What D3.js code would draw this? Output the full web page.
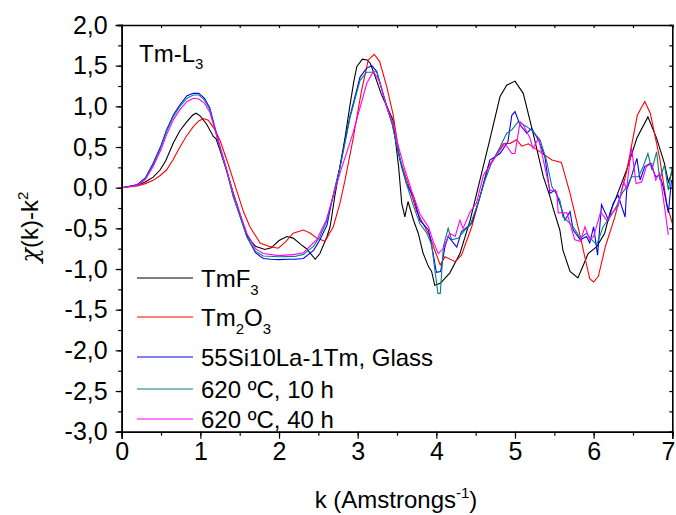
<!DOCTYPE html>
<html><head><meta charset="utf-8">
<script src="https://cdn.jsdelivr.net/npm/d3@7"></script>
<style>
html,body{margin:0;padding:0;background:#fff;}
text{font-family:"Liberation Sans",Arial,sans-serif;fill:#000;}
</style></head>
<body>
<svg id="chart" width="676" height="515"></svg>
<script>
// ---- data (k, chi(k)*k^2) ----
const seriesNames = ["TmF3", "Tm2O3", "55Si10La-1Tm, Glass", "620 ºC, 10 h", "620 ºC, 40 h"];
const seriesColors = ["#000000", "#ff0000", "#0000ff", "#008080", "#ff00ff"];

const tmf3 = [[0,0],[0.2,0.03],[0.3,0.07],[0.4,0.13],[0.49,0.22],[0.56,0.33],[0.656,0.55],[0.74,0.70],[0.826,0.81],[0.9,0.89],[0.945,0.915],[1.0,0.88],[1.08,0.78],[1.165,0.63],[1.2,0.6],[1.25,0.46],[1.33,0.22],[1.42,-0.07],[1.5,-0.33],[1.6,-0.6],[1.7,-0.72],[1.82,-0.76],[1.9,-0.74],[2.0,-0.65],[2.1,-0.6],[2.18,-0.62],[2.28,-0.7],[2.35,-0.75],[2.46,-0.88],[2.52,-0.81],[2.61,-0.6],[2.65,-0.48],[2.71,-0.1],[2.775,0.26],[2.84,0.62],[2.9,1.0],[2.95,1.3],[2.99,1.49],[3.06,1.58],[3.12,1.57],[3.16,1.53],[3.24,1.32],[3.3,1.15],[3.37,1.0],[3.45,0.83],[3.52,0.26],[3.56,-0.19],[3.6,-0.36],[3.64,-0.17],[3.71,-0.4],[3.77,-0.56],[3.83,-0.8],[3.9,-0.97],[3.94,-1.03],[3.98,-1.2],[4.05,-1.175],[4.17,-1.05],[4.3,-0.81],[4.43,-0.4],[4.555,0.095],[4.68,0.59],[4.81,1.12],[4.895,1.26],[5.0,1.31],[5.105,1.16],[5.23,0.67],[5.36,0.135],[5.445,-0.11],[5.49,-0.27],[5.57,-0.52],[5.61,-0.77],[5.7,-1.03],[5.8,-1.11],[5.87,-0.95],[5.93,-0.81],[6.04,-0.725],[6.14,-0.56],[6.21,-0.3],[6.29,-0.11],[6.42,0.22],[6.55,0.61],[6.69,0.87],[6.8,0.61],[6.9,0.3],[6.95,0.07],[7.0,0.2]];

const tm2o3 = [[0,0],[0.2,0.02],[0.3,0.05],[0.4,0.09],[0.49,0.15],[0.572,0.22],[0.65,0.34],[0.741,0.5],[0.82,0.63],[0.91,0.75],[0.98,0.82],[1.04,0.85],[1.1,0.83],[1.18,0.72],[1.25,0.58],[1.35,0.3],[1.46,-0.03],[1.55,-0.3],[1.63,-0.48],[1.76,-0.68],[1.885,-0.725],[1.99,-0.745],[2.08,-0.67],[2.18,-0.56],[2.31,-0.52],[2.4,-0.56],[2.48,-0.62],[2.585,-0.66],[2.69,-0.48],[2.775,-0.19],[2.84,0.095],[2.94,0.59],[3.05,1.2],[3.135,1.57],[3.21,1.64],[3.28,1.55],[3.37,1.24],[3.45,0.9],[3.54,0.34],[3.64,0.05],[3.75,-0.29],[3.83,-0.44],[3.92,-0.6],[3.98,-0.77],[4.05,-0.95],[4.11,-0.85],[4.24,-0.91],[4.32,-0.83],[4.45,-0.48],[4.555,-0.11],[4.66,0.26],[4.745,0.38],[4.85,0.54],[4.94,0.545],[5.02,0.59],[5.085,0.51],[5.17,0.54],[5.32,0.44],[5.47,0.34],[5.59,0.31],[5.7,-0.07],[5.83,-0.6],[5.95,-1.12],[6.0,-1.16],[6.06,-1.09],[6.15,-0.72],[6.27,-0.36],[6.42,0.2],[6.555,0.89],[6.65,1.06],[6.72,0.915],[6.84,0.36],[6.93,-0.2],[7.0,-0.44]];

const glass = [[0,0],[0.2,0.04],[0.3,0.12],[0.4,0.3],[0.5,0.52],[0.57,0.71],[0.66,0.9],[0.74,1.02],[0.83,1.13],[0.91,1.16],[0.98,1.16],[1.05,1.1],[1.12,0.98],[1.25,0.5],[1.335,0.22],[1.42,-0.11],[1.46,-0.19],[1.59,-0.6],[1.7,-0.8],[1.8,-0.87],[1.9,-0.88],[2.0,-0.885],[2.1,-0.88],[2.2,-0.88],[2.31,-0.87],[2.44,-0.77],[2.52,-0.64],[2.61,-0.46],[2.66,-0.22],[2.775,0.26],[2.9,0.87],[3.03,1.36],[3.115,1.47],[3.18,1.5],[3.24,1.43],[3.37,1.0],[3.44,0.78],[3.5,0.5],[3.56,0.25],[3.62,0.05],[3.71,-0.11],[3.79,-0.4],[3.9,-0.52],[3.96,-0.81],[4.0,-1.04],[4.055,-1.03],[4.11,-0.725],[4.15,-0.6],[4.26,-0.73],[4.32,-0.54],[4.45,-0.44],[4.555,-0.11],[4.68,0.34],[4.81,0.42],[4.91,0.565],[4.96,0.89],[5.0,0.935],[5.065,0.77],[5.15,0.67],[5.21,0.73],[5.3,0.585],[5.38,0.38],[5.445,-0.07],[5.51,-0.03],[5.59,-0.25],[5.635,-0.4],[5.7,-0.295],[5.74,-0.52],[5.83,-0.64],[5.91,-0.6],[5.95,-0.68],[6.0,-0.48],[6.05,-0.83],[6.1,-0.21],[6.19,-0.4],[6.25,-0.19],[6.31,-0.09],[6.4,-0.36],[6.42,-0.03],[6.48,0.135],[6.55,0.36],[6.59,0.095],[6.65,0.26],[6.72,0.3],[6.79,0.135],[6.84,0.155],[6.885,0.01],[6.95,-0.31],[6.99,0.095]];

const h10 = [[0,0],[0.2,0.03],[0.3,0.11],[0.4,0.28],[0.5,0.5],[0.57,0.69],[0.66,0.88],[0.74,1.0],[0.83,1.1],[0.91,1.14],[0.98,1.14],[1.05,1.08],[1.12,0.96],[1.25,0.48],[1.335,0.2],[1.42,-0.12],[1.59,-0.6],[1.7,-0.78],[1.8,-0.84],[2.0,-0.85],[2.2,-0.845],[2.31,-0.82],[2.44,-0.72],[2.52,-0.6],[2.61,-0.4],[2.66,-0.2],[2.775,0.24],[2.9,0.85],[3.03,1.32],[3.115,1.42],[3.2,1.42],[3.24,1.44],[3.37,1.0],[3.44,0.78],[3.5,0.5],[3.56,0.28],[3.62,0.05],[3.7,-0.2],[3.79,-0.44],[3.88,-0.56],[3.94,-0.7],[3.98,-1.0],[4.02,-1.3],[4.05,-1.3],[4.09,-0.72],[4.15,-0.5],[4.195,-0.64],[4.28,-0.62],[4.365,-0.52],[4.43,-0.46],[4.53,-0.19],[4.62,0.095],[4.7,0.3],[4.81,0.5],[4.895,0.67],[4.96,0.71],[5.04,0.81],[5.15,0.75],[5.23,0.69],[5.32,0.585],[5.4,0.34],[5.47,0.01],[5.57,-0.15],[5.61,-0.36],[5.7,-0.44],[5.74,-0.48],[5.83,-0.62],[5.91,-0.56],[5.975,-0.64],[6.04,-0.7],[6.12,-0.48],[6.21,-0.36],[6.29,-0.23],[6.36,-0.07],[6.42,0.01],[6.48,0.135],[6.57,0.135],[6.63,0.26],[6.69,0.42],[6.74,0.22],[6.8,0.44],[6.84,0.095],[6.9,0.28],[6.95,-0.03],[7.0,0.26]];

const h40 = [[0,0],[0.2,0.03],[0.3,0.1],[0.4,0.26],[0.5,0.47],[0.57,0.65],[0.66,0.84],[0.74,0.96],[0.83,1.06],[0.91,1.1],[0.98,1.09],[1.05,1.04],[1.12,0.93],[1.25,0.5],[1.335,0.22],[1.42,-0.08],[1.59,-0.56],[1.7,-0.75],[1.8,-0.81],[2.0,-0.835],[2.2,-0.82],[2.31,-0.8],[2.48,-0.64],[2.6,-0.4],[2.775,0.18],[2.94,0.67],[3.115,1.28],[3.2,1.43],[3.28,1.3],[3.37,0.98],[3.45,0.8],[3.52,0.5],[3.6,0.22],[3.69,-0.05],[3.79,-0.32],[3.9,-0.48],[3.96,-0.66],[4.025,-0.81],[4.09,-0.745],[4.17,-0.56],[4.24,-0.6],[4.3,-0.4],[4.34,-0.5],[4.43,-0.295],[4.51,-0.19],[4.6,0.155],[4.7,0.3],[4.81,0.46],[4.87,0.545],[4.96,0.42],[5.0,0.42],[5.065,0.81],[5.105,0.77],[5.19,0.61],[5.23,0.48],[5.3,0.61],[5.36,0.34],[5.445,-0.03],[5.53,-0.05],[5.55,-0.31],[5.66,-0.31],[5.76,-0.64],[5.83,-0.66],[5.89,-0.48],[5.95,-0.64],[6.0,-0.6],[6.09,-0.295],[6.165,-0.4],[6.25,-0.295],[6.31,-0.23],[6.38,0.07],[6.42,-0.01],[6.48,0.5],[6.54,0.05],[6.61,0.07],[6.67,0.26],[6.74,0.3],[6.79,0.095],[6.84,0.18],[6.9,-0.23],[6.95,-0.58]];

const xTicks = [0,1,2,3,4,5,6,7];
const yTicks = [2,1.5,1,0.5,0,-0.5,-1,-1.5,-2,-2.5,-3];

// ---- drawing ----
const allSeries = [tmf3, tm2o3, glass, h10, h40];
const svg = d3.select("#chart");
const L = 121.7, R = 672.3, T = 25, B = 431.7;
const x = d3.scaleLinear().domain([0,7]).range([L,R]);
const y = d3.scaleLinear().domain([-3,2]).range([B,T]);
const fmt = v => d3.format(".1f")(v).replace(".", ",").replace("\u2212", "-");

svg.append("clipPath").attr("id","clp").append("rect")
  .attr("x",L).attr("y",T).attr("width",R-L).attr("height",B-T);

const line = d3.line().x(d=>x(d[0])).y(d=>y(d[1]));
const g = svg.append("g").attr("clip-path","url(#clp)");
allSeries.forEach((s,i)=>{
  g.append("path").attr("d",line(s)).attr("fill","none")
   .attr("stroke",seriesColors[i]).attr("stroke-width",1.1);
});

const minorX = d3.range(0,7.01,0.5);
const minorY = d3.range(-3,2.01,0.25);

// bottom axis
svg.append("g").attr("class","lab").attr("transform",`translate(0,${B})`)
  .call(d3.axisBottom(x).tickValues(xTicks).tickSize(7).tickPadding(4).tickFormat(d3.format("d")));
svg.append("g").attr("transform",`translate(0,${B})`)
  .call(d3.axisBottom(x).tickValues(minorX).tickSize(4).tickFormat(""));
// left axis
svg.append("g").attr("class","lab").attr("transform",`translate(${L},0)`)
  .call(d3.axisLeft(y).tickValues(yTicks).tickSize(6).tickPadding(8).tickFormat(fmt));
svg.append("g").attr("transform",`translate(${L},0)`)
  .call(d3.axisLeft(y).tickValues(minorY).tickSize(3.5).tickFormat(""));
// top axis (ticks inward)
svg.append("g").attr("transform",`translate(0,${T})`)
  .call(d3.axisTop(x).tickValues(minorX).tickSize(-3).tickFormat(""));
// right axis (ticks inward)
svg.append("g").attr("transform",`translate(${R},0)`)
  .call(d3.axisRight(y).tickValues(minorY).tickSize(-3).tickFormat(""));

svg.selectAll(".domain").attr("stroke","#000").attr("stroke-width",1.6);
svg.selectAll(".tick line").attr("stroke","#000").attr("stroke-width",1.2);
svg.selectAll(".tick text").attr("font-size",25).attr("font-family","Liberation Sans, Arial, sans-serif").attr("fill","#000");
svg.selectAll(".lab .tick text").filter(d=>d===7).attr("text-anchor","end").attr("dx",2.5);

// axis titles
const xt = svg.append("text").attr("x",396).attr("y",508).attr("text-anchor","middle").attr("font-size",24);
xt.append("tspan").text("k (Amstrongs");
xt.append("tspan").attr("dy",-10).attr("font-size",15).text("-1");
xt.append("tspan").attr("dy",10).text(")");

const yt = svg.append("text").attr("transform","translate(38,227) rotate(-90)").attr("text-anchor","middle").attr("font-size",24);
yt.append("tspan").attr("font-family","DejaVu Serif, serif").attr("font-style","italic").text("χ");
yt.append("tspan").text("(k)-k");
yt.append("tspan").attr("dy",-10).attr("font-size",15).text("2");

// annotation
const an = svg.append("text").attr("x",139).attr("y",62).attr("font-size",24);
an.append("tspan").text("Tm-L");
an.append("tspan").attr("dy",7).attr("font-size",15).text("3");

// legend
const legY = [278, 317, 357, 389, 419];
const leg = svg.append("g");
seriesNames.forEach((n,i)=>{
  leg.append("line").attr("x1",137).attr("x2",193).attr("y1",legY[i]).attr("y2",legY[i])
    .attr("stroke",seriesColors[i]).attr("stroke-width",1.1);
  const t = leg.append("text").attr("x",201).attr("y",legY[i]+9).attr("font-size",24);
  if (i===0){ t.append("tspan").text("TmF"); t.append("tspan").attr("dy",8).attr("font-size",15).text("3"); }
  else if (i===1){ t.append("tspan").text("Tm"); t.append("tspan").attr("dy",8).attr("font-size",15).text("2");
    t.append("tspan").attr("dy",-8).text("O"); t.append("tspan").attr("dy",8).attr("font-size",15).text("3"); }
  else t.text(n);
});
</script>
</body></html>
